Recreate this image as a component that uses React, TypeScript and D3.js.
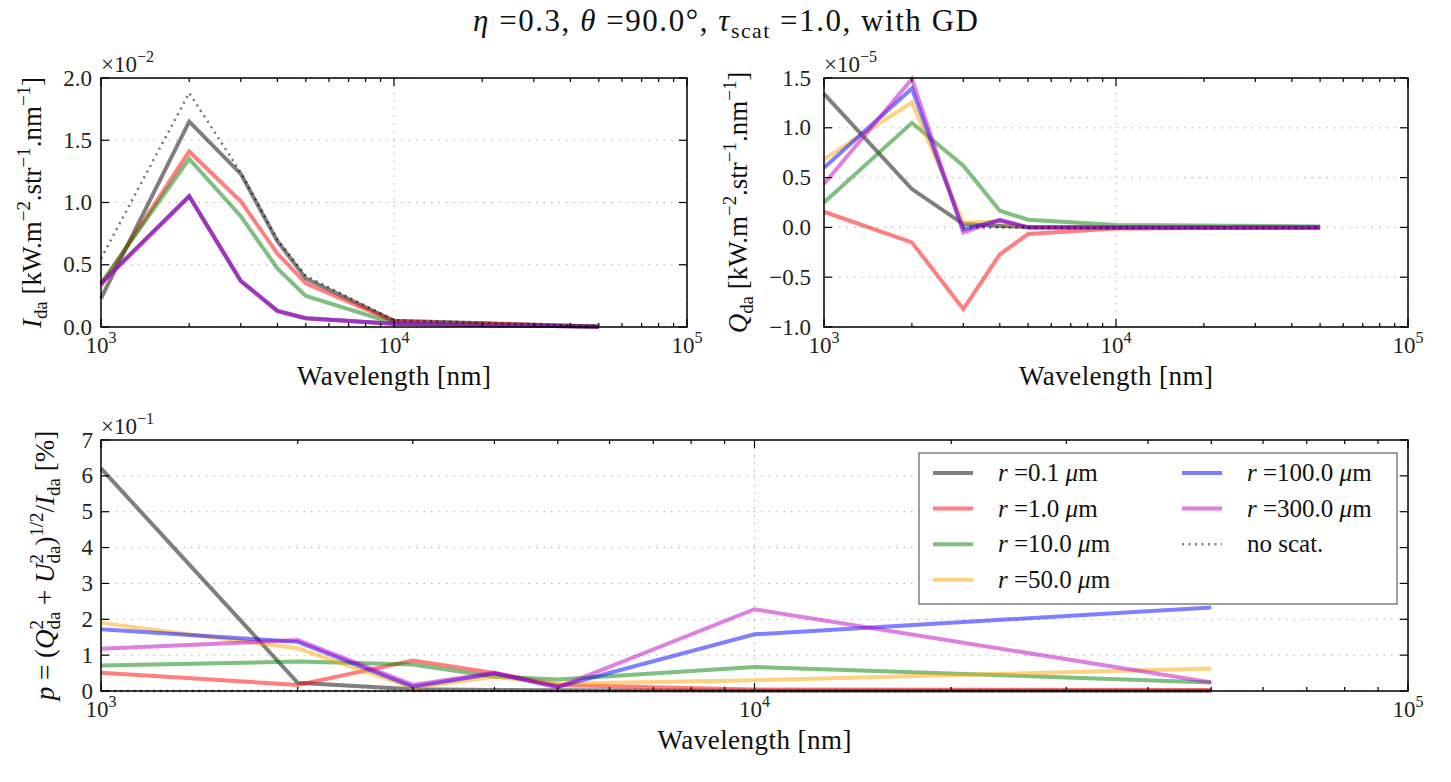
import { useEffect, useRef } from 'react';
import * as d3 from 'd3';

const W = 1451;
const H = 782;
const FONT = 'Liberation Serif, Times New Roman, serif';

// sampled wavelengths [nm]
const wavelengths = [1000, 2000, 3000, 4000, 5000, 10000, 50000];

const radii = ['0.1', '1.0', '10.0', '50.0', '100.0', '300.0'];
const colors = ['#000000', '#ff0000', '#008000', '#ffa500', '#0000ff', '#bf00bf'];

// I_da, in units of 1e-2
const iR01 = [0.23, 1.65, 1.23, 0.69, 0.39, 0.05, 0.005];
const iR1 = [0.33, 1.41, 1.01, 0.59, 0.35, 0.045, 0.005];
const iR10 = [0.35, 1.35, 0.89, 0.47, 0.25, 0.03, 0.003];
const iR50 = [0.35, 1.05, 0.37, 0.13, 0.07, 0.027, 0.002];
const iR100 = [0.35, 1.05, 0.37, 0.13, 0.07, 0.027, 0.002];
const iR300 = [0.35, 1.05, 0.37, 0.13, 0.07, 0.027, 0.002];
const iNoScat = [0.55, 1.88, 1.24, 0.7, 0.41, 0.055, 0.006];

// Q_da, in units of 1e-5 (no-scattering curve only defined from 3 µm)
const qR01 = [1.34, 0.385, 0.033, 0.015, 0.005, 0, 0];
const qR1 = [0.157, -0.15, -0.82, -0.27, -0.067, -0.01, 0];
const qR10 = [0.25, 1.05, 0.62, 0.167, 0.077, 0.025, 0.01];
const qR50 = [0.686, 1.255, 0.05, 0.057, 0, 0, 0];
const qR100 = [0.6, 1.395, -0.023, 0.074, 0, 0, 0];
const qR300 = [0.435, 1.49, -0.05, 0.074, 0, 0, 0];
const qNoScat = [NaN, NaN, 0, 0, 0, 0, 0];

// degree of polarisation p, in units of 1e-1
const pR01 = [6.21, 0.23, 0.05, 0.03, 0.02, 0.01, 0.005];
const pR1 = [0.51, 0.17, 0.85, 0.5, 0.17, 0.04, 0.03];
const pR10 = [0.71, 0.82, 0.74, 0.4, 0.32, 0.67, 0.24];
const pR50 = [1.9, 1.19, 0.09, 0.4, 0.2, 0.3, 0.63];
const pR100 = [1.72, 1.37, 0.12, 0.49, 0.12, 1.58, 2.33];
const pR300 = [1.18, 1.42, 0.17, 0.51, 0.1, 2.28, 0.24];
const pNoScat = [0, 0, 0, 0, 0, 0, 0];

type Seg = { t: string; s?: 'sub' | 'sup'; i?: boolean; dx?: number };
type TextSel = d3.Selection<SVGTextElement, unknown, null, undefined>;

// writes a mathtext-like label as tspans with sub/superscripts
function rich(sel: TextSel, segs: Seg[], size: number, span?: number) {
    sel.attr('font-family', FONT).style('white-space', 'pre').attr('font-size', size);
    if (span) sel.attr('textLength', span).attr('lengthAdjust', 'spacing');
    let cur = 0;
    segs.forEach((sg) => {
        const shift = sg.s === 'sup' ? -0.42 * size : sg.s === 'sub' ? 0.24 * size : 0;
        const ts = sel.append('tspan').text(sg.t).attr('dy', shift - cur);
        cur = shift;
        if (sg.s) ts.attr('font-size', size * 0.7);
        if (sg.i) ts.attr('font-style', 'italic');
        if (sg.dx) ts.attr('dx', sg.dx);
    });
}

type Box = { x0: number; x1: number; y0: number; y1: number };

type PanelSpec = {
    box: Box;
    yDomain: [number, number];
    yTickCount: number;
    yFormat: (v: number) => string;
    series: number[][];
    noScat: number[];
    exponent: string;
    ylabel: Seg[];
    ylabelX: number;
    tickGap: number;
};

const unitLabel: Seg[] = [
    { t: ' [kW.m' },
    { t: '−2', s: 'sup' },
    { t: '.str' },
    { t: '−1', s: 'sup' },
    { t: '.nm' },
    { t: '−1', s: 'sup' },
    { t: ']' }
];

export default function App() {
    const svgRef = useRef<SVGSVGElement>(null);

    useEffect(() => {
        const svg = d3.select(svgRef.current);
        svg.selectAll('*').remove();
        svg.append('rect').attr('width', W).attr('height', H).attr('fill', '#fff');

        function drawPanel(p: PanelSpec) {
            const { box } = p;
            const g = svg.append('g');
            const x = d3.scaleLog().domain([1e3, 1e5]).range([box.x0, box.x1]);
            const y = d3.scaleLinear().domain(p.yDomain).range([box.y1, box.y0]);
            const xTicks = x.ticks();
            const isMajor = (v: number) => Math.abs(Math.log10(v) - Math.round(Math.log10(v))) < 1e-9;
            const xMajor = xTicks.filter(isMajor);
            const xMinor = xTicks.filter((v) => !isMajor(v));
            const yTicks = y.ticks(p.yTickCount);

            // dotted grid
            const grid = g.append('g').attr('stroke', '#b0b0b0').attr('stroke-width', 1).attr('stroke-dasharray', '1.5,6');
            yTicks.forEach((v) => {
                grid.append('line').attr('x1', box.x0).attr('x2', box.x1).attr('y1', y(v)).attr('y2', y(v));
            });
            xMajor.forEach((v) => {
                grid.append('line').attr('x1', x(v)).attr('x2', x(v)).attr('y1', box.y0).attr('y2', box.y1);
            });

            // series
            const line = d3
                .line<number>()
                .defined((d) => !Number.isNaN(d))
                .x((_, i) => x(wavelengths[i]))
                .y((d) => y(d));
            p.series.forEach((s, k) => {
                g.append('path')
                    .attr('d', line(s))
                    .attr('fill', 'none')
                    .attr('stroke', colors[k])
                    .attr('stroke-opacity', 0.5)
                    .attr('stroke-width', 4)
                    .attr('stroke-linejoin', 'miter');
            });
            g.append('path')
                .attr('d', line(p.noScat))
                .attr('fill', 'none')
                .attr('stroke', '#000')
                .attr('stroke-opacity', 0.55)
                .attr('stroke-width', 2.5)
                .attr('stroke-dasharray', '2,4.5');

            // ticks pointing inward on all four sides
            const ticks = g.append('g').attr('stroke', '#000').attr('stroke-width', 1.2);
            const xt = (v: number, len: number) => {
                ticks.append('line').attr('x1', x(v)).attr('x2', x(v)).attr('y1', box.y1).attr('y2', box.y1 - len);
                ticks.append('line').attr('x1', x(v)).attr('x2', x(v)).attr('y1', box.y0).attr('y2', box.y0 + len);
            };
            xMajor.forEach((v) => xt(v, 8));
            xMinor.forEach((v) => xt(v, 4));
            yTicks.forEach((v) => {
                ticks.append('line').attr('x1', box.x0).attr('x2', box.x0 + 8).attr('y1', y(v)).attr('y2', y(v));
                ticks.append('line').attr('x1', box.x1).attr('x2', box.x1 - 8).attr('y1', y(v)).attr('y2', y(v));
            });

            g.append('rect')
                .attr('x', box.x0)
                .attr('y', box.y0)
                .attr('width', box.x1 - box.x0)
                .attr('height', box.y1 - box.y0)
                .attr('fill', 'none')
                .attr('stroke', '#000')
                .attr('stroke-width', 1.5);

            // tick labels
            yTicks.forEach((v) => {
                const t = g
                    .append('text')
                    .attr('x', box.x0 - p.tickGap)
                    .attr('y', y(v) + 7.5)
                    .attr('text-anchor', 'end')
                    .attr('fill', '#222');
                rich(t, [{ t: p.yFormat(v) }], 23);
            });
            xMajor.forEach((v) => {
                const t = g
                    .append('text')
                    .attr('x', x(v))
                    .attr('y', box.y1 + 26)
                    .attr('text-anchor', 'middle')
                    .attr('fill', '#222');
                rich(t, [{ t: '10' }, { t: String(Math.round(Math.log10(v))), s: 'sup' }], 23);
            });

            // offset exponent above the axes
            const off = g.append('text').attr('x', box.x0).attr('y', box.y0 - 6).attr('fill', '#222');
            rich(off, [{ t: '×10' }, { t: p.exponent, s: 'sup' }], 23);

            // axis labels
            const xl = g
                .append('text')
                .attr('x', (box.x0 + box.x1) / 2)
                .attr('y', box.y1 + 58)
                .attr('text-anchor', 'middle')
                .attr('fill', '#111');
            rich(xl, [{ t: 'Wavelength [nm]' }], 27, 194);
            const yl = g
                .append('text')
                .attr('transform', `translate(${p.ylabelX},${(box.y0 + box.y1) / 2}) rotate(-90)`)
                .attr('text-anchor', 'middle')
                .attr('fill', '#111');
            rich(yl, p.ylabel, 27);
        }

        const fmt1 = d3.format('.1f');
        const fmt0 = d3.format('d');

        drawPanel({
            box: { x0: 101, x1: 687, y0: 78, y1: 327 },
            yDomain: [0, 2],
            yTickCount: 4,
            yFormat: fmt1,
            series: [iR01, iR1, iR10, iR50, iR100, iR300],
            noScat: iNoScat,
            exponent: '−2',
            ylabel: [{ t: 'I', i: true }, { t: 'da', s: 'sub' }, ...unitLabel],
            ylabelX: 41,
            tickGap: 9
        });

        drawPanel({
            box: { x0: 824, x1: 1408, y0: 78, y1: 327 },
            yDomain: [-1, 1.5],
            yTickCount: 5,
            yFormat: fmt1,
            series: [qR01, qR1, qR10, qR50, qR100, qR300],
            noScat: qNoScat,
            exponent: '−5',
            ylabel: [{ t: 'Q', i: true }, { t: 'da', s: 'sub' }, ...unitLabel],
            ylabelX: 747,
            tickGap: 13
        });

        drawPanel({
            box: { x0: 101, x1: 1408, y0: 440, y1: 691 },
            yDomain: [0, 7],
            yTickCount: 7,
            yFormat: fmt0,
            series: [pR01, pR1, pR10, pR50, pR100, pR300],
            noScat: pNoScat,
            exponent: '−1',
            ylabel: [
                { t: 'p', i: true },
                { t: ' = (' },
                { t: 'Q', i: true },
                { t: '2', s: 'sup' },
                { t: 'da', s: 'sub', dx: -9.5 },
                { t: ' + ' },
                { t: 'U', i: true },
                { t: '2', s: 'sup' },
                { t: 'da', s: 'sub', dx: -9.5 },
                { t: ')' },
                { t: '1/2', s: 'sup' },
                { t: '/' },
                { t: 'I', i: true },
                { t: 'da', s: 'sub' },
                { t: ' [%]' }
            ],
            ylabelX: 54,
            tickGap: 8
        });

        // title
        const title = svg.append('text').attr('x', W / 2).attr('y', 31).attr('text-anchor', 'middle').attr('fill', '#111');
        rich(
            title,
            [
                { t: 'η', i: true },
                { t: ' =0.3, ' },
                { t: 'θ', i: true },
                { t: ' =90.0°, ' },
                { t: 'τ', i: true },
                { t: 'scat', s: 'sub' },
                { t: ' =1.0, with GD' }
            ],
            31,
            505
        );

        // legend, two columns
        const lg = svg.append('g');
        lg.append('rect')
            .attr('x', 919)
            .attr('y', 453)
            .attr('width', 478)
            .attr('height', 151)
            .attr('fill', '#fff')
            .attr('stroke', '#808080')
            .attr('stroke-width', 1.5);
        const entries = [
            ...radii.map((r, k) => ({
                label: [{ t: 'r', i: true }, { t: ` =${r} ` }, { t: 'μ', i: true }, { t: 'm' }] as Seg[],
                color: colors[k],
                dotted: false
            })),
            { label: [{ t: 'no scat.' }] as Seg[], color: '#000', dotted: true }
        ];
        const colX = [933, 1182];
        const rowY0 = 473;
        const rowDy = 35.6;
        entries.forEach((e, k) => {
            const col = k < 4 ? 0 : 1;
            const row = k < 4 ? k : k - 4;
            const cx = colX[col];
            const cy = rowY0 + row * rowDy;
            lg.append('line')
                .attr('x1', cx)
                .attr('x2', cx + 40)
                .attr('y1', cy)
                .attr('y2', cy)
                .attr('stroke', e.color)
                .attr('stroke-opacity', 0.5)
                .attr('stroke-width', e.dotted ? 2.5 : 4)
                .attr('stroke-dasharray', e.dotted ? '2,4.5' : null);
            const t = lg
                .append('text')
                .attr('x', cx + 65)
                .attr('y', cy + 8)
                .attr('fill', '#111');
            rich(t, e.label, 25);
        });
    }, []);

    return (
        <div style={{ position: 'fixed', left: 0, top: 0, background: '#fff' }}>
            <svg ref={svgRef} width={W} height={H} />
        </div>
    );
}
